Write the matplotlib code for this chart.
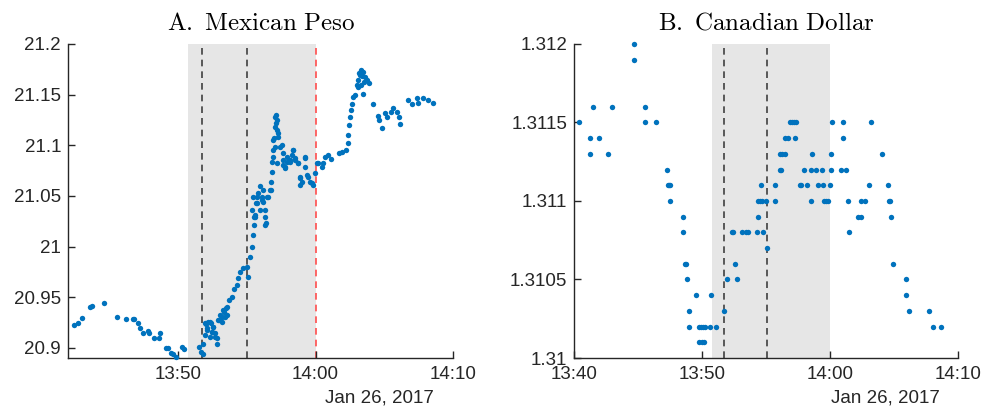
import matplotlib
matplotlib.use("Agg")
import matplotlib.pyplot as plt
import matplotlib.dates as mdates
from matplotlib.ticker import FuncFormatter
import pandas as pd

# minutes after 13:00 on Jan 26, 2017, and quoted rate
mxn_min = [42.44, 42.75, 43.0, 43.6, 43.77, 44.62, 45.56, 46.22, 46.71, 46.8,
           47.07, 47.24, 47.48, 47.8, 47.91, 48.28, 48.64, 48.69, 49.13, 49.29,
           49.49, 49.66, 49.85, 50.31, 50.44, 51.53, 51.65, 51.84, 51.84, 51.96,
           52.09, 52.01, 52.2, 52.4, 52.57, 52.45, 52.33, 52.69, 52.86, 52.81,
           53.0, 53.18, 53.37, 53.47, 53.54, 53.71, 53.91, 54.09, 54.27, 54.39,
           54.51, 54.75, 55.0, 55.11, 55.24, 55.36, 55.48, 55.55, 55.6, 55.65,
           55.53, 55.72, 55.96, 56.09, 56.2, 56.33, 56.33, 56.57, 56.74, 56.76,
           56.81, 56.86, 56.93, 56.98, 57.05, 57.13, 57.18, 57.29, 57.54, 57.61,
           57.66, 57.78, 57.91, 58.15, 58.27, 58.39, 58.51, 58.75, 58.87, 58.87,
           59.0, 59.24, 59.36, 59.6, 59.84, 60.09, 60.2, 60.45, 60.57, 60.69,
           60.93, 61.11, 61.73, 61.91, 62.2, 62.39, 62.39, 62.44, 62.51, 62.56,
           62.63, 62.75, 62.87, 63.04, 63.11, 63.24, 63.29, 63.43, 63.6, 63.72,
           63.91, 63.48, 64.2, 64.52, 64.64, 64.81, 65.05, 65.22, 65.47, 65.66,
           65.95, 66.09, 66.15, 66.71, 67.0, 67.36, 67.48, 67.84, 68.2, 68.57,
           51.96, 52.09, 52.33, 52.45, 52.57, 52.69, 52.93, 53.05, 53.18, 53.29,
           53.42, 53.54, 55.36, 55.48, 55.6, 55.72, 55.84, 55.96, 56.09, 56.2,
           56.33, 56.4, 56.49, 56.69, 57.05, 57.13, 57.18, 56.93, 57.05, 57.29,
           57.42, 56.89, 57.18, 57.66, 57.78, 57.91, 58.15, 58.39, 58.51, 58.75,
           58.87, 59.24, 59.24, 59.48, 59.72, 59.96, 63.19, 63.36, 63.11, 63.53,
           63.29]
mxn_val = [20.9227, 20.9249, 20.9293, 20.9401, 20.9417, 20.9447, 20.9308, 20.9289, 20.9289, 20.9289,
           20.9249, 20.9197, 20.9151, 20.9170, 20.9151, 20.9095, 20.9095, 20.9151, 20.9002, 20.9002,
           20.8947, 20.8940, 20.8914, 20.9006, 20.8993, 20.9012, 20.8963, 20.8940, 20.9039, 20.9128,
           20.9177, 20.9236, 20.9259, 20.9243, 20.9210, 20.9160, 20.9111, 20.9145, 20.9095, 20.9039,
           20.9276, 20.9308, 20.9358, 20.9391, 20.9325, 20.9473, 20.9506, 20.9579, 20.9621, 20.9687,
           20.9753, 20.9786, 20.9796, 20.9697, 20.9901, 20.9999, 21.0115, 21.0214, 21.0312, 21.0428,
           21.0295, 21.0493, 21.0598, 21.0493, 21.0443, 21.0362, 21.0214, 21.0493, 21.0559, 21.0641,
           21.0740, 21.0838, 21.0954, 21.1069, 21.1184, 21.1299, 21.1250, 21.1119, 21.1003, 21.0921,
           21.0806, 21.0773, 21.0838, 21.0855, 21.0904, 21.0954, 21.0855, 21.0823, 21.0674, 21.0608,
           21.0641, 21.0872, 21.0707, 21.0641, 21.0608, 21.0823, 21.0823, 21.0789, 21.0823, 21.0888,
           21.0904, 21.0865, 21.0921, 21.0937, 21.0954, 21.1020, 21.1102, 21.1201, 21.1282, 21.1349,
           21.1405, 21.1480, 21.1497, 21.1595, 21.1645, 21.1694, 21.1743, 21.1727, 21.1677, 21.1645,
           21.1612, 21.1504, 21.1405, 21.1292, 21.1250, 21.1168, 21.1316, 21.1282, 21.1332, 21.1365,
           21.1332, 21.1282, 21.1207, 21.1447, 21.1405, 21.1464, 21.1415, 21.1470, 21.1447, 21.1415,
           20.9243, 20.9194, 20.9259, 20.9160, 20.9210, 20.9111, 20.9276, 20.9325, 20.9259, 20.9375,
           20.9308, 20.9407, 21.0362, 21.0493, 21.0295, 21.0428, 21.0526, 21.0362, 21.0460, 21.0559,
           21.0295, 21.0230, 21.0493, 21.0559, 21.1282, 21.1217, 21.1151, 21.1052, 21.0986, 21.1085,
           21.0986, 21.0888, 21.0823, 21.0855, 21.0789, 21.0888, 21.0838, 21.0954, 21.0872, 21.0823,
           21.0690, 21.0888, 21.0789, 21.0690, 21.0625, 21.0724, 21.1711, 21.1687, 21.1579, 21.1628,
           21.1595]

cad_min = [40.39, 41.23, 41.23, 41.43, 41.9, 42.66, 42.95, 44.67, 44.67, 45.53,
           45.53, 46.39, 47.22, 47.3, 47.4, 47.5, 47.51, 48.5, 48.5, 48.63,
           48.7, 48.83, 48.93, 48.93, 49.53, 49.71, 49.9, 50.03, 50.21, 49.77,
           49.95, 50.1, 50.67, 50.62, 51.04, 51.71, 51.92, 52.31, 52.43, 52.57,
           52.7, 53.12, 53.44, 53.59, 54.26, 54.73, 54.32, 54.37, 54.53, 54.63,
           54.61, 55.0, 55.07, 55.67, 55.67, 56.1, 56.17, 56.1, 56.25, 56.43,
           56.46, 56.72, 56.88, 57.04, 57.19, 57.35, 57.24, 57.6, 57.74, 57.94,
           58.18, 58.55, 58.5, 58.5, 58.89, 59.05, 59.36, 59.43, 59.48, 59.64,
           59.82, 59.98, 60.03, 60.03, 60.16, 60.81, 60.99, 60.99, 61.2, 61.39,
           61.44, 62.17, 62.38, 62.43, 62.69, 63.0, 63.14, 64.0, 64.47, 64.55,
           64.62, 64.73, 64.86, 65.88, 65.88, 66.13, 67.7, 68.04, 68.62]
cad_val = [1.3115, 1.3114, 1.3113, 1.3116, 1.3114, 1.3113, 1.3116, 1.3120, 1.3119, 1.3116,
           1.3115, 1.3115, 1.3112, 1.3111, 1.3111, 1.3111, 1.3110, 1.3109, 1.3108, 1.3106,
           1.3106, 1.3105, 1.3103, 1.3102, 1.3104, 1.3102, 1.3102, 1.3102, 1.3102, 1.3101,
           1.3101, 1.3101, 1.3104, 1.3102, 1.3102, 1.3103, 1.3105, 1.3108, 1.3108, 1.3106,
           1.3105, 1.3108, 1.3108, 1.3108, 1.3108, 1.3108, 1.3109, 1.3110, 1.3110, 1.3110,
           1.3111, 1.3110, 1.3107, 1.3111, 1.3110, 1.3112, 1.3112, 1.3113, 1.3113, 1.3113,
           1.3114, 1.3114, 1.3115, 1.3115, 1.3115, 1.3115, 1.3114, 1.3111, 1.3111, 1.3112,
           1.3111, 1.3113, 1.3112, 1.3110, 1.3112, 1.3111, 1.3112, 1.3111, 1.3110, 1.3110,
           1.3110, 1.3111, 1.3112, 1.3113, 1.3115, 1.3112, 1.3115, 1.3114, 1.3112, 1.3110,
           1.3108, 1.3109, 1.3109, 1.3110, 1.3110, 1.3111, 1.3115, 1.3113, 1.3111, 1.3110,
           1.3110, 1.3109, 1.3106, 1.3105, 1.3104, 1.3103, 1.3103, 1.3102, 1.3102]

shade_start = 50.73
shade_end = 60.0
event_lines = [51.73, 55.05]
red_line = 60.0

base = pd.Timestamp("2017-01-26 13:00:00")
def to_time(m):
    return base + pd.to_timedelta(m, unit="min")

plt.rcParams["font.family"] = ["Liberation Sans", "DejaVu Sans"]
plt.rcParams["mathtext.fontset"] = "cm"

fig = plt.figure(figsize=(9.85, 4.08), dpi=100)
axA = fig.add_axes([0.069, 0.1225, 0.391, 0.77])
axB = fig.add_axes([0.583, 0.1225, 0.39, 0.77])

blue = "#0072BD"
panels = [
    (axA, mxn_min, mxn_val, r"$\mathrm{A.\ Mexican\ Peso}$", 42, (20.89, 21.2),
     [20.9, 20.95, 21.0, 21.05, 21.1, 21.15, 21.2], True),
    (axB, cad_min, cad_val, r"$\mathrm{B.\ Canadian\ Dollar}$", 40, (1.31, 1.312),
     [1.31, 1.3105, 1.311, 1.3115, 1.312], False),
]

for ax, mins, vals, title, xstart, ylim, yticks, has_red in panels:
    ax.axvspan(to_time(shade_start), to_time(shade_end), color="#e6e6e6", lw=0, zorder=0)
    for m in event_lines:
        ax.axvline(to_time(m), color="#404040", ls=(0, (4, 3)), lw=1.2, zorder=1)
    if has_red:
        ax.axvline(to_time(red_line), color="#ff4d4d", ls=(0, (4, 3)), lw=1.2, zorder=1)
    ax.scatter(to_time(pd.Series(mins)), vals, s=15, color=blue, lw=0, zorder=3,
               clip_on=False)

    ax.set_xlim(to_time(xstart), to_time(70))
    ax.set_ylim(*ylim)
    ax.set_yticks(yticks)
    ax.yaxis.set_major_formatter(FuncFormatter(lambda v, p: "%.6g" % v))
    ax.xaxis.set_major_locator(mdates.MinuteLocator(byminute=[0, 10, 20, 30, 40, 50]))
    ax.xaxis.set_major_formatter(mdates.DateFormatter("%H:%M"))
    ax.tick_params(direction="in", length=5, width=1, color="#262626",
                   labelsize=13.5, labelcolor="#262626", pad=6)
    ax.tick_params(axis="y", pad=5)
    for s in ["top", "right"]:
        ax.spines[s].set_visible(False)
    for s in ["left", "bottom"]:
        ax.spines[s].set_color("#262626")
        ax.spines[s].set_linewidth(1)
    ax.set_title(title, fontsize=18, pad=10)
    ax.annotate("Jan 26, 2017", xy=(1, 0), xycoords="axes fraction",
                xytext=(-19, -40), textcoords="offset pixels",
                ha="right", va="center", fontsize=13.5, color="#262626")

fig.savefig("out.png", dpi=100)
